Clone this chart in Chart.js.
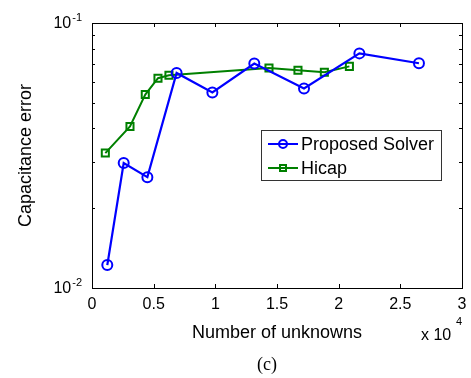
<!DOCTYPE html>
<html>
<head>
<meta charset="utf-8">
<script src="https://cdn.jsdelivr.net/npm/chart.js@4/dist/chart.umd.min.js"></script>
<style>
  html, body { margin: 0; padding: 0; background: #fff; }
  #wrap { width: 471px; height: 378px; position: relative; }
</style>
</head>
<body>
<div id="wrap"><canvas id="c" width="471" height="378"></canvas></div>
<script>
// Number of unknowns and capacitance error for each solver
const solverUnknowns = [1240, 2570, 4490, 6860, 9760, 13160, 17190, 21680, 26510];
const solverError    = [0.0122, 0.0296, 0.0262, 0.0648, 0.0547, 0.0703, 0.0566, 0.0768, 0.0705];
const hicapUnknowns  = [1080, 3080, 4320, 5350, 6240, 14350, 16700, 18840, 20870];
const hicapError     = [0.0323, 0.0407, 0.0537, 0.0619, 0.0635, 0.0676, 0.0663, 0.0652, 0.0686];

const seriesNames = ['Proposed Solver', 'Hicap'];
const xTicks = [0, 5000, 10000, 15000, 20000, 25000, 30000];
const xTickLabels = ['0', '0.5', '1', '1.5', '2', '2.5', '3'];
const yDecades = [0.01, 0.1];
const yDecadeExponents = ['-2', '-1'];
const yMinorTicks = [0.02, 0.03, 0.04, 0.05, 0.06, 0.07, 0.08, 0.09];

const BLUE = '#0000ff';
const GREEN = '#008000';
const FONT = 'Arial, "Liberation Sans", Helvetica, sans-serif';

const toPts = (xs, ys) => xs.map((x, i) => ({ x: x, y: ys[i] }));

// Axes box, inward tick marks, labels and legend
const framePlugin = {
  id: 'frame',
  afterDraw(chart) {
    const ctx = chart.ctx;
    const a = chart.chartArea;
    const xs = chart.scales.x, ys = chart.scales.y;
    ctx.save();
    ctx.strokeStyle = '#000';
    ctx.lineWidth = 1;
    ctx.strokeRect(Math.round(a.left) + 0.5, Math.round(a.top) + 0.5,
                   Math.round(a.right - a.left), Math.round(a.bottom - a.top));

    ctx.beginPath();
    xTicks.forEach(v => {
      const px = Math.round(xs.getPixelForValue(v)) + 0.5;
      ctx.moveTo(px, a.bottom); ctx.lineTo(px, a.bottom - 4);
      ctx.moveTo(px, a.top); ctx.lineTo(px, a.top + 4);
    });
    yDecades.forEach(v => {
      const py = Math.round(ys.getPixelForValue(v)) + 0.5;
      ctx.moveTo(a.left, py); ctx.lineTo(a.left + 4, py);
      ctx.moveTo(a.right, py); ctx.lineTo(a.right - 4, py);
    });
    yMinorTicks.forEach(v => {
      const py = Math.round(ys.getPixelForValue(v)) + 0.5;
      ctx.moveTo(a.left, py); ctx.lineTo(a.left + 3, py);
      ctx.moveTo(a.right, py); ctx.lineTo(a.right - 3, py);
    });
    ctx.stroke();

    ctx.fillStyle = '#000';
    // x tick labels
    ctx.font = '16px ' + FONT;
    ctx.textAlign = 'center';
    ctx.textBaseline = 'middle';
    xTicks.forEach((v, i) => {
      ctx.fillText(xTickLabels[i], xs.getPixelForValue(v), a.bottom + 17);
    });

    // y tick labels: 10 with superscript exponent
    yDecades.forEach((v, i) => {
      const py = ys.getPixelForValue(v);
      ctx.font = '11px ' + FONT;
      const ew = ctx.measureText(yDecadeExponents[i]).width;
      ctx.textAlign = 'left';
      ctx.textBaseline = 'alphabetic';
      const ex = a.left - 10 - ew;
      ctx.fillText(yDecadeExponents[i], ex, py - 2);
      ctx.font = '16px ' + FONT;
      ctx.textAlign = 'right';
      ctx.textBaseline = 'middle';
      ctx.fillText('10', ex - 1, py + 1);
    });

    // axis titles
    ctx.font = '18px ' + FONT;
    ctx.textAlign = 'center';
    ctx.textBaseline = 'middle';
    ctx.fillText('Number of unknowns', (a.left + a.right) / 2, 333);
    ctx.save();
    ctx.translate(26, (a.top + a.bottom) / 2);
    ctx.rotate(-Math.PI / 2);
    ctx.fillText('Capacitance error', 0, 0);
    ctx.restore();

    // x-axis multiplier
    ctx.font = '16px ' + FONT;
    ctx.textAlign = 'left';
    ctx.textBaseline = 'alphabetic';
    ctx.fillText('x 10', 421, 340);
    ctx.font = '11px ' + FONT;
    ctx.fillText('4', 456, 325);

    // panel caption
    ctx.font = '18px "Liberation Serif", "Times New Roman", serif';
    ctx.textAlign = 'center';
    ctx.textBaseline = 'middle';
    ctx.fillText('(c)', 267, 365);

    // legend box
    const lx = 261.5, ly = 130.5, lw = 180, lh = 50;
    ctx.fillStyle = '#fff';
    ctx.fillRect(lx, ly, lw, lh);
    ctx.strokeStyle = '#333';
    ctx.lineWidth = 1;
    ctx.strokeRect(lx, ly, lw, lh);
    const rows = [
      { name: seriesNames[0], color: BLUE, y: 144, shape: 'circle' },
      { name: seriesNames[1], color: GREEN, y: 168, shape: 'rect' }
    ];
    rows.forEach(r => {
      ctx.strokeStyle = r.color;
      ctx.lineWidth = 2;
      ctx.beginPath();
      ctx.moveTo(268, r.y); ctx.lineTo(298, r.y);
      ctx.stroke();
      ctx.beginPath();
      if (r.shape === 'circle') {
        ctx.arc(283, r.y, 4, 0, Math.PI * 2);
      } else {
        ctx.rect(280, r.y - 3, 6, 6);
      }
      ctx.stroke();
      ctx.fillStyle = '#000';
      ctx.font = '18px ' + FONT;
      ctx.textAlign = 'left';
      ctx.textBaseline = 'middle';
      ctx.fillText(r.name, 301, r.y + 1);
    });
    ctx.restore();
  }
};

new Chart(document.getElementById('c'), {
  type: 'line',
  data: {
    datasets: [
      {
        label: seriesNames[0],
        data: toPts(solverUnknowns, solverError),
        borderColor: BLUE,
        backgroundColor: 'rgba(0,0,0,0)',
        borderWidth: 2.2,
        pointStyle: 'circle',
        pointRadius: 5,
        pointBorderWidth: 2,
        pointBorderColor: BLUE,
        pointBackgroundColor: 'rgba(0,0,0,0)',
        tension: 0
      },
      {
        label: seriesNames[1],
        data: toPts(hicapUnknowns, hicapError),
        borderColor: GREEN,
        backgroundColor: 'rgba(0,0,0,0)',
        borderWidth: 2,
        pointStyle: 'rect',
        pointRadius: 5,
        pointBorderWidth: 2,
        pointBorderColor: GREEN,
        pointBackgroundColor: 'rgba(0,0,0,0)',
        tension: 0
      }
    ]
  },
  options: {
    responsive: false,
    animation: false,
    devicePixelRatio: 1,
    layout: { padding: { left: 92, right: 9, top: 23, bottom: 90 } },
    plugins: { legend: { display: false }, tooltip: { enabled: false } },
    scales: {
      x: { type: 'linear', min: 0, max: 30000, display: false },
      y: { type: 'logarithmic', min: 0.01, max: 0.1, display: false }
    }
  },
  plugins: [framePlugin]
});
</script>
</body>
</html>
